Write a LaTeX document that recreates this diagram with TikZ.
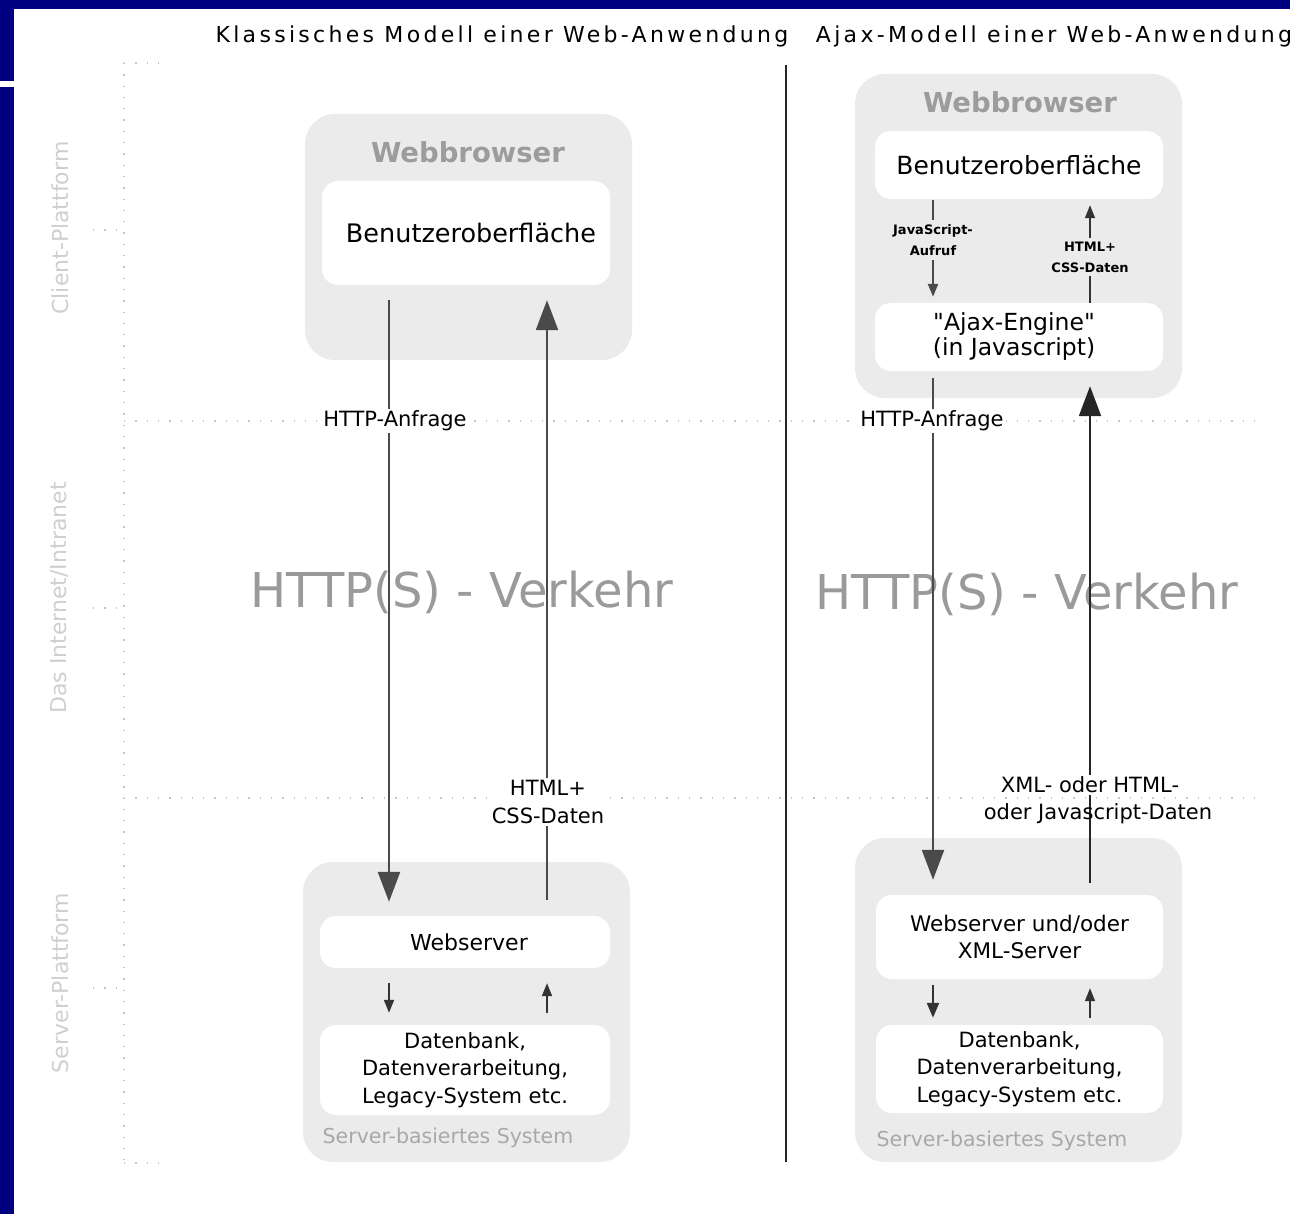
\documentclass[tikz,border=0pt]{standalone}
\usepackage{fontspec}
\setmainfont[Ligatures=TeXOff]{DejaVu Sans}
\newfontfamily\spacedfont[LetterSpace=15]{DejaVu Sans}
\usetikzlibrary{arrows.meta}
\definecolor{navyframe}{HTML}{000080}
\definecolor{boxgray}{HTML}{EBEBEB}
\definecolor{titlegray}{HTML}{9C9C9C}
\definecolor{bigtextgray}{HTML}{9A9A9A}
\definecolor{sidegray}{HTML}{CFCFCF}
\definecolor{dotgray}{HTML}{C4C4C4}
\definecolor{servgray}{HTML}{A8A8A8}
\definecolor{arrowgray}{HTML}{4A4A4A}
\newcommand\fsz[2]{\fontsize{#1}{#2}\selectfont}
\begin{document}
\begin{tikzpicture}[x=1pt,y=1pt,
  graybox/.style={fill=boxgray, rounded corners=30pt, inner sep=0pt},
  whitebox/.style={fill=white, rounded corners=16pt, inner sep=0pt, align=center, font=\fsz{21}{27.5}},
  boxtitle/.style={text=titlegray, font=\bfseries\fsz{27.5}{30}},
  systitle/.style={text=servgray, font=\fsz{20.5}{24}},
  sidelabel/.style={rotate=90, text=sidegray, font=\fsz{22}{26}},
  bigtext/.style={text=bigtextgray, font=\fsz{48}{52}},
  headline/.style={font=\spacedfont\fsz{22}{26}},
  flowlabel/.style={fill=white, inner sep=2pt, align=center, font=\fsz{21}{28}},
  tinylabel/.style={fill=boxgray, inner xsep=2pt, inner ysep=4pt, align=center, font=\bfseries\fsz{13}{21}},
  dotline/.style={draw=dotgray, line width=1.3pt, dash pattern=on 1.3pt off 10pt},
  bigarrow/.style={draw=arrowgray, line width=2.4pt, -{Triangle[width=22pt,length=30pt]}},
  smallarrow/.style={draw=black!80, line width=1.8pt, -{Triangle[width=10pt,length=13pt]}}
]
\useasboundingbox (0,0) rectangle (1290,-1214);
% slide frame
\fill[navyframe] (0,0) rectangle (1290,-9);
\fill[navyframe] (0,0) rectangle (14,-81);
\fill[navyframe] (0,-87) rectangle (14,-1214);

% dotted grid
\draw[dotline] (124,-63) -- (124,-1163);
\draw[dotline] (124,-63) -- (158,-63);
\draw[dotline] (124,-1163) -- (158,-1163);
\draw[dotline] (124,-421) -- (1262,-421);
\draw[dotline] (124,-798) -- (1262,-798);
\draw[dotline] (93,-230) -- (124,-230);
\draw[dotline] (93,-608) -- (124,-608);
\draw[dotline] (93,-988) -- (124,-988);

% side labels
\node[sidelabel] (sclient) at (60,-228) {Client-Plattform};
\node[sidelabel] (snet) at (60,-598) {Das Internet/Intranet};
\node[sidelabel] (sserver) at (60,-983) {Server-Plattform};

% headlines
\node[headline] (hl) at (502,-36) {Klassisches Modell einer Web-Anwendung};
\node[headline] (hr) at (1054,-36) {Ajax-Modell einer Web-Anwendung};

% separator
\draw[line width=2.5pt, black!85] (786,-65) -- (786,-1162);

% big background text
\node[bigtext] (vl) at (462,-592) {HTTP(S) - Verkehr};
\node[bigtext] (vr) at (1027,-594) {HTTP(S) - Verkehr};

% ---------- left: classic model ----------
\node[graybox, minimum width=327pt, minimum height=246pt] (lb) at (468.5,-237) {};
\node[boxtitle] (lbt) at (468,-152) {Webbrowser};
\node[whitebox, minimum width=288pt, minimum height=104pt, font=\fsz{25.5}{30}] (lui) at (466,-233) {\hspace*{10pt}Benutzeroberfläche};

\node[graybox, minimum width=327pt, minimum height=300pt] (ls) at (466.5,-1012) {};
\node[whitebox, minimum width=290pt, minimum height=52pt, font=\fsz{22}{27}] (lws) at (465,-942) {\hspace*{8pt}Webserver};
\node[whitebox, minimum width=290pt, minimum height=90pt] (ldb) at (465,-1070) {Datenbank,\\Datenverarbeitung,\\Legacy-System etc.};
\node[systitle] (lst) at (448,-1138) {Server-basiertes System};

% ---------- right: ajax model ----------
\node[graybox, minimum width=327pt, minimum height=324pt] (rb) at (1018.5,-236) {};
\node[boxtitle] (rbt) at (1020,-102) {Webbrowser};
\node[whitebox, minimum width=288pt, minimum height=68pt, font=\fsz{25}{30}] (rui) at (1019,-165) {Benutzeroberfläche};
\node[whitebox, minimum width=288pt, minimum height=68pt, font=\fsz{23.5}{25}] (rae) at (1019,-337) {\hspace*{-10pt}"Ajax-Engine"\\\hspace*{-10pt}(in Javascript)};

\node[graybox, minimum width=327pt, minimum height=324pt] (rs) at (1018.5,-1000) {};
\node[whitebox, minimum width=287pt, minimum height=84pt, font=\fsz{21.5}{27}] (rws) at (1019.5,-937) {Webserver und/oder\\XML-Server};
\node[whitebox, minimum width=287pt, minimum height=88pt] (rdb) at (1019.5,-1069) {Datenbank,\\Datenverarbeitung,\\Legacy-System etc.};
\node[systitle] (rst) at (1002,-1141) {Server-basiertes System};

% column coordinates
\coordinate (cLa) at (389,0);
\coordinate (cLb) at (547,0);
\coordinate (cRa) at (933,0);
\coordinate (cRb) at (1090,0);

% left arrows
\draw[bigarrow, shorten <=15pt, shorten >=14pt] (lui.south -| cLa) -- (lws.north -| cLa);
\draw[bigarrow, shorten <=16pt, shorten >=15pt] (lws.north -| cLb) -- (lui.south -| cLb);
\draw[smallarrow, shorten <=15pt, shorten >=12pt] (lws.south -| cLa) -- (ldb.north -| cLa);
\draw[smallarrow, shorten <=12pt, shorten >=15pt] (ldb.north -| cLb) -- (lws.south -| cLb);

% right arrows
\draw[smallarrow, line width=2.4pt, draw=arrowgray, shorten <=1pt, shorten >=6pt] (rui.south -| cRa) -- (rae.north -| cRa);
\draw[smallarrow, line width=1.6pt, shorten <=0pt, shorten >=6pt] (rae.north -| cRb) -- (rui.south -| cRb);
\draw[bigarrow, shorten <=7pt, shorten >=15pt] (rae.south -| cRa) -- (rws.north -| cRa);
\draw[bigarrow, line width=2pt, draw=black!85, shorten <=12pt, shorten >=15pt] (rws.north -| cRb) -- (rae.south -| cRb);
\draw[smallarrow, line width=2.4pt, -{Triangle[width=12pt,length=15pt]}, shorten <=6pt, shorten >=7pt] (rws.south -| cRa) -- (rdb.north -| cRa);
\draw[smallarrow, line width=1.6pt, shorten <=7pt, shorten >=9pt] (rdb.north -| cRb) -- (rws.south -| cRb);

% arrow labels
\node[flowlabel] (lhttp) at (395,-421) {HTTP-Anfrage};
\node[flowlabel] (lhtml) at (548,-802) {HTML+\\CSS-Daten};
\node[flowlabel] (rhttp) at (932,-421) {HTTP-Anfrage};
\node[flowlabel] (rxml1) at (1090,-785) {XML- oder HTML-};
\node[font=\fsz{21}{28}, inner sep=1pt] (rxml2) at (1098,-814) {oder Javascript-Daten};
\node[tinylabel] (rjs) at (933,-240) {JavaScript-\\Aufruf};
\node[tinylabel] (rhc) at (1090,-257) {HTML+\\CSS-Daten};
\end{tikzpicture}
\end{document}
